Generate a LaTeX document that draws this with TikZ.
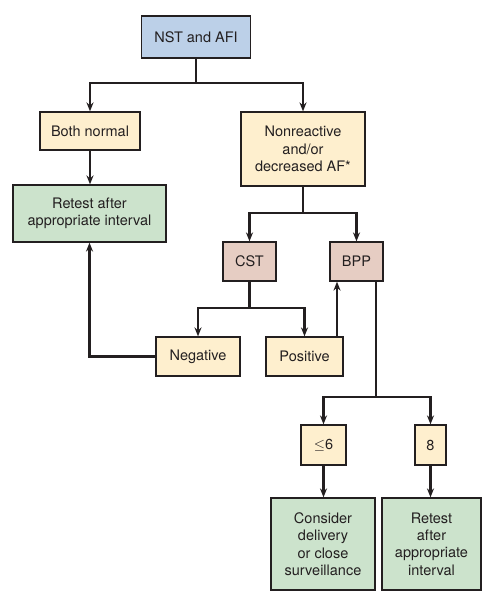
\documentclass[tikz,border=0pt]{standalone}
\usepackage{fontspec}
\setmainfont{TeX Gyre Heros}
\usetikzlibrary{arrows.meta}
\definecolor{cblue}{HTML}{BCD0E8}
\definecolor{cyel}{HTML}{FEEFCE}
\definecolor{cpink}{HTML}{E6CDC3}
\definecolor{cgreen}{HTML}{CCE3CC}
\definecolor{ink}{HTML}{231F20}
\begin{document}
\begin{tikzpicture}[x=1pt,y=-1pt,
  box/.style={draw=ink,line width=1.2pt,align=center,inner sep=0pt,text=ink,
    font=\fontsize{14.5}{17.4}\selectfont},
  bl/.style={box,fill=cblue},
  yl/.style={box,fill=cyel},
  pk/.style={box,fill=cpink},
  gr/.style={box,fill=cgreen},
  ln/.style={draw=ink,line width=2.6pt},
  arr/.style={ln,-{Stealth[length=9pt,width=7pt]}}]
\useasboundingbox (0,0) rectangle (499,597);
\node[bl,minimum width=109pt,minimum height=42pt] (nst) at (196,37) {NST and AFI};
\node[yl,minimum width=100pt,minimum height=38pt] (both) at (90,131) {Both normal};
\node[yl,minimum width=124pt,minimum height=74pt] (nonr) at (303,149) {Nonreactive\\and/or\\decreased AF*};
\node[gr,minimum width=153pt,minimum height=57pt] (ret1) at (89.5,213.5) {Retest after\\appropriate interval};
\node[pk,minimum width=53pt,minimum height=39pt] (cst) at (249.5,261.5) {CST};
\node[pk,minimum width=53pt,minimum height=39pt] (bpp) at (356.5,261.5) {BPP};
\node[yl,minimum width=84pt,minimum height=39pt] (neg) at (198,356.5) {Negative};
\node[yl,minimum width=77pt,minimum height=39pt] (pos) at (304.5,356.5) {Positive};
\node[yl,minimum width=45pt,minimum height=40pt] (le6) at (323.5,445) {$\leq$6};
\node[yl,minimum width=31pt,minimum height=40pt] (eight) at (430.5,445) {8};
\node[gr,minimum width=104pt,minimum height=92pt] (cons) at (323,544) {Consider\\delivery\\or close\\surveillance};
\node[gr,minimum width=99pt,minimum height=92pt] (ret2) at (431.5,544) {Retest\\after\\appropriate\\interval};
\coordinate (s1) at (196,83);
\coordinate (s2) at (303,213);
\coordinate (s3) at (249.5,308);
\coordinate (s4) at (376,397);
\draw[ln] (nst.south) -- (s1);
\draw[arr] (s1) -| (both.north);
\draw[arr] (s1) -| (nonr.north);
\draw[arr] (both.south) -- (both.south |- ret1.north);
\draw[ln] (nonr.south) -- (s2);
\draw[arr] (s2) -| (cst.north);
\draw[arr] (s2) -| (bpp.north);
\draw[ln] (cst.south) -- (s3);
\draw[arr] (s3) -| (neg.north);
\draw[arr] (s3) -| (pos.north);
\draw[arr] ([xshift=32.5pt]pos.north) -- ([xshift=32.5pt]pos.north |- bpp.south);
\draw[arr] (neg.west) -| (ret1.south);
\draw[ln] ([xshift=19.5pt]bpp.south) -- (s4);
\draw[arr] (s4) -| (le6.north);
\draw[arr] (s4) -| (eight.north);
\draw[arr] (le6.south) -- (le6.south |- cons.north);
\draw[arr] (eight.south) -- (eight.south |- ret2.north);
\end{tikzpicture}
\end{document}
